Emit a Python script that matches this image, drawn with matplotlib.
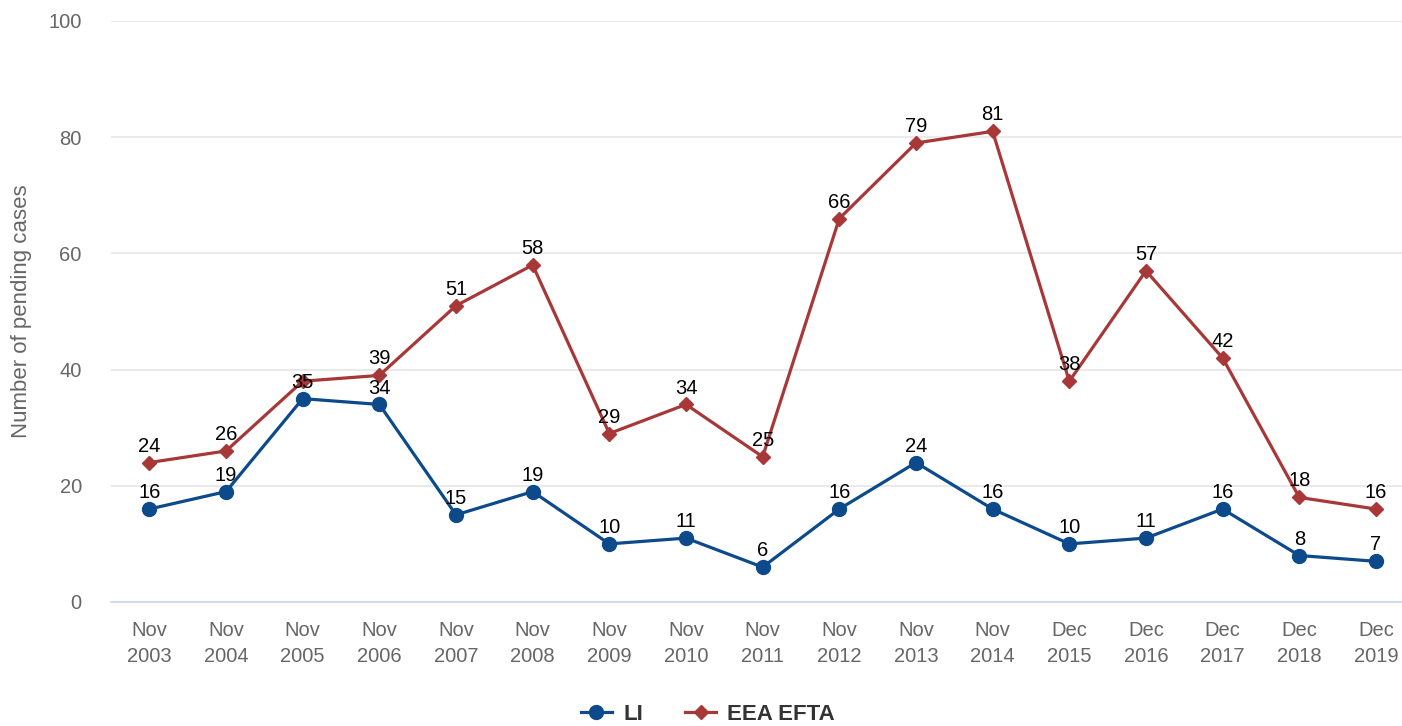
import numpy as np
from matplotlib import pyplot as plt

plt.rcParams['font.family'] = ['Liberation Sans', 'DejaVu Sans']

periods = ['Nov\n2003', 'Nov\n2004', 'Nov\n2005', 'Nov\n2006', 'Nov\n2007', 'Nov\n2008',
           'Nov\n2009', 'Nov\n2010', 'Nov\n2011', 'Nov\n2012', 'Nov\n2013', 'Nov\n2014',
           'Dec\n2015', 'Dec\n2016', 'Dec\n2017', 'Dec\n2018', 'Dec\n2019']
li_cases = [16, 19, 35, 34, 15, 19, 10, 11, 6, 16, 24, 16, 10, 11, 16, 8, 7]
eea_cases = [24, 26, 38, 39, 51, 58, 29, 34, 25, 66, 79, 81, 38, 57, 42, 18, 16]

li_color = '#0c4a8c'
eea_color = '#a83838'
grey = '#666666'

fig = plt.figure(figsize=(14.02, 7.26), dpi=100)
ax = fig.add_axes([0.0792, 0.1708, 0.9208, 0.8003])

x = np.arange(len(periods))
ax.plot(x, li_cases, color=li_color, lw=2.3, marker='o', ms=10, label='LI', zorder=3)
ax.plot(x, eea_cases, color=eea_color, lw=2.3, marker='D', ms=7, label='EEA EFTA', zorder=3)

# data labels (EEA label hidden when it would collide with the LI one)
for i in x:
    ax.annotate(str(li_cases[i]), (i, li_cases[i]), xytext=(0, 5), textcoords='offset points',
                ha='center', va='bottom', fontsize=14.5, color='black', zorder=4)
    if abs(eea_cases[i] - li_cases[i]) >= 4:
        ax.annotate(str(eea_cases[i]), (i, eea_cases[i]), xytext=(0, 5), textcoords='offset points',
                    ha='center', va='bottom', fontsize=14.5, color='black', zorder=4)

ax.set_ylim(0, 100)
ax.set_yticks(range(0, 101, 20))
ax.set_xlim(-0.5, 16.34)
ax.set_xticks(x)
ax.set_xticklabels(periods, linespacing=1.45)

ax.grid(axis='y', color='#e6e6e6', lw=1.2)
ax.set_axisbelow(True)
for side in ['top', 'right', 'left']:
    ax.spines[side].set_visible(False)
ax.spines['bottom'].set_color('#ccd6eb')
ax.spines['bottom'].set_linewidth(1.2)

ax.tick_params(axis='y', length=0, pad=21, labelsize=14.5, labelcolor=grey)
ax.tick_params(axis='x', length=0, pad=14, labelsize=14.5, labelcolor=grey)
ax.set_ylabel('Number of pending cases', fontsize=16, color=grey, labelpad=12)

fig.legend(loc='center', bbox_to_anchor=(0.505, 1 - 714 / 726), ncol=2, frameon=False,
           prop={'size': 16, 'weight': 'bold'}, labelcolor='#333333',
           handlelength=1.4, columnspacing=1.9, handletextpad=0.5)

fig.savefig('out.png', dpi=100)
